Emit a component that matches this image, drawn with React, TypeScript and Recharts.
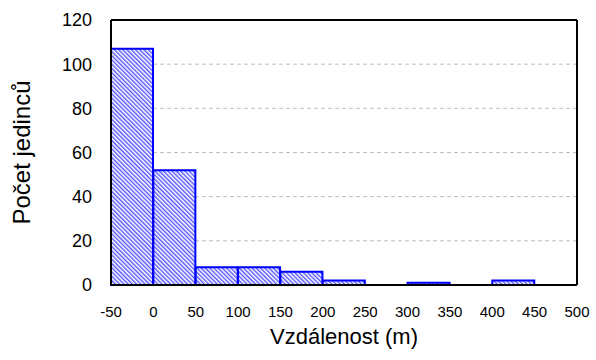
import React from 'react'
import { BarChart, Bar, XAxis, YAxis, CartesianGrid, Label } from 'recharts'

// histogram bins (left edge, metres) and counts
const binStarts = [-50, 0, 50, 100, 150, 200, 250, 300, 350, 400, 450]
const counts = [107, 52, 8, 8, 6, 2, 0, 1, 0, 2, 0]
const xTicks = [-50, 0, 50, 100, 150, 200, 250, 300, 350, 400, 450, 500]
const yTicks = [0, 20, 40, 60, 80, 100, 120]

const data = binStarts.map((s, i) => ({ mid: s + 25, count: counts[i] }))

const font = 'Arial, "Liberation Sans", sans-serif'
const frame = { stroke: '#000', strokeWidth: 2 }

function App() {
  return (
    <div style={{ position: 'absolute', left: 0, top: 0 }}>
      <BarChart
        width={596}
        height={360}
        data={data}
        barCategoryGap={0}
        barGap={0}
        margin={{ top: 20, right: 19, left: 0, bottom: 0 }}
        style={{ fontFamily: font }}
      >
        <defs>
          {/* fine diagonal hatch */}
          <pattern id="hatch" width="3" height="3" patternUnits="userSpaceOnUse" patternTransform="rotate(-45)">
            <rect width="3" height="3" fill="#ffffff" />
            <rect width="1.4" height="3" fill="#5252ff" />
          </pattern>
        </defs>
        <CartesianGrid vertical={false} stroke="#bdbdbd" strokeDasharray="4 3" xAxisId="x" yAxisId="y" />
        <XAxis
          xAxisId="x"
          dataKey="mid"
          type="number"
          domain={[-50, 500]}
          ticks={xTicks}
          interval={0}
          height={75}
          tickSize={0}
          tickMargin={21}
          axisLine={frame}
          tickLine={false}
          tick={{ fill: '#000', fontSize: 15 }}
        >
          <Label value="Vzdálenost (m)" position="insideBottom" offset={16} fill="#000" fontSize={22} />
        </XAxis>
        {/* inward tick marks on all four sides (size 1 so they get drawn) */}
        <XAxis
          xAxisId="xin"
          orientation="bottom"
          mirror
          type="number"
          domain={[-50, 500]}
          allowDataOverflow
          ticks={xTicks}
          interval={0}
          height={1}
          tickSize={5}
          tick={false}
          axisLine={false}
          tickLine={frame}
        />
        <XAxis
          xAxisId="top"
          orientation="top"
          mirror
          type="number"
          domain={[-50, 500]}
          allowDataOverflow
          ticks={xTicks}
          interval={0}
          height={1}
          tickSize={5}
          tick={false}
          axisLine={frame}
          tickLine={frame}
        />
        <YAxis
          yAxisId="y"
          type="number"
          domain={[0, 120]}
          ticks={yTicks}
          interval={0}
          width={111}
          tickSize={0}
          tickMargin={19}
          axisLine={frame}
          tickLine={false}
          tick={{ fill: '#000', fontSize: 18 }}
        >
          <Label
            value="Počet jedinců"
            angle={-90}
            position="insideLeft"
            offset={21}
            fill="#000"
            fontSize={24}
            style={{ textAnchor: 'middle' }}
          />
        </YAxis>
        <YAxis
          yAxisId="yin"
          orientation="left"
          mirror
          type="number"
          domain={[0, 120]}
          allowDataOverflow
          ticks={yTicks}
          interval={0}
          width={1}
          tickSize={5}
          tick={false}
          axisLine={false}
          tickLine={frame}
        />
        <YAxis
          yAxisId="right"
          orientation="right"
          mirror
          type="number"
          domain={[0, 120]}
          allowDataOverflow
          ticks={yTicks}
          interval={0}
          width={1}
          tickSize={5}
          tick={false}
          axisLine={frame}
          tickLine={frame}
        />
        <Bar
          xAxisId="x"
          yAxisId="y"
          dataKey="count"
          fill="url(#hatch)"
          stroke="#0000ff"
          strokeWidth={2}
          isAnimationActive={false}
        />
      </BarChart>
    </div>
  )
}

export default App
